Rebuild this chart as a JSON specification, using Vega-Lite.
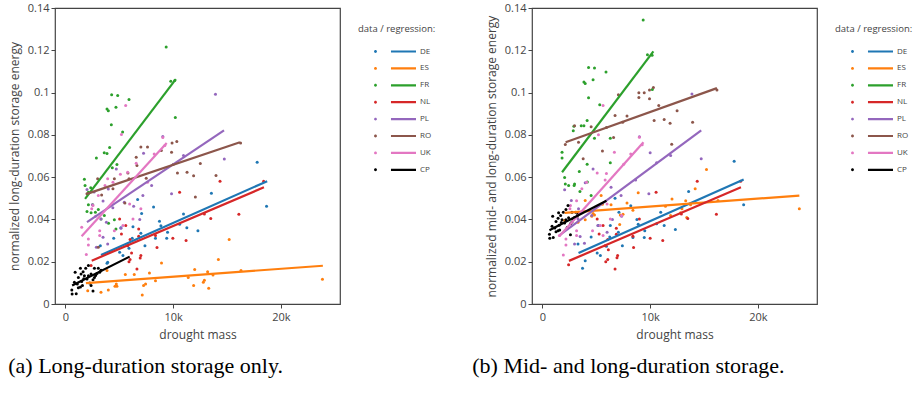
{
"$schema": "https://vega.github.io/schema/vega-lite/v6.json",
"background": "white",
"padding": {"left": 7, "top": 1, "right": 5, "bottom": 5},
"config": {
  "view": {"stroke": "#444", "strokeWidth": 1.2},
  "font": "Open Sans",
  "axis": {"domain": false, "grid": false, "tickColor": "#444", "tickSize": 4, "labelFont": "Open Sans", "labelFontSize": 11, "labelColor": "#444", "labelPadding": 2, "titleFont": "Open Sans", "titleFontSize": 12, "titleColor": "#444", "titleFontWeight": "normal"},
  "axisY": {"titlePadding": 6},
  "axisX": {"titlePadding": 7, "labelPadding": 3},
  "legend": {"orient": "right", "offset": 2, "padding": 16, "symbolType": "M1.71,0A0.21,0.21,0,1,1,1.29,0A0.21,0.21,0,1,1,1.71,0ZM3.71,-0.16H7.29V0.16H3.71Z", "symbolSize": 196, "symbolStrokeWidth": 0, "symbolOpacity": 1, "labelOffset": 48, "rowPadding": 5.9, "titlePadding": 11, "labelFont": "Open Sans", "labelFontSize": 8, "labelColor": "#444", "titleFont": "Open Sans", "titleFontSize": 9.5, "titleColor": "#444", "titleFontWeight": "normal"},
  "title": {"orient": "bottom", "anchor": "start", "frame": "bounds", "font": "Liberation Serif", "fontSize": 22, "fontWeight": "normal", "color": "#000", "offset": 16}
},
"datasets": {
"fit": [
{"p":"a","c":"DE","x":3300,"y":0.0232},{"p":"a","c":"DE","x":18730,"y":0.0581},
{"p":"a","c":"ES","x":1900,"y":0.0099},{"p":"a","c":"ES","x":23900,"y":0.0181},
{"p":"a","c":"FR","x":1820,"y":0.0497},{"p":"a","c":"FR","x":10250,"y":0.1064},
{"p":"a","c":"NL","x":2440,"y":0.0205},{"p":"a","c":"NL","x":18430,"y":0.0552},
{"p":"a","c":"PL","x":2000,"y":0.0387},{"p":"a","c":"PL","x":14720,"y":0.0821},
{"p":"a","c":"RO","x":2000,"y":0.0521},{"p":"a","c":"RO","x":16200,"y":0.0765},
{"p":"a","c":"UK","x":1500,"y":0.0320},{"p":"a","c":"UK","x":9400,"y":0.0762},
{"p":"a","c":"CP","x":620,"y":0.0087},{"p":"a","c":"CP","x":5960,"y":0.0224},
{"p":"b","c":"DE","x":3350,"y":0.0241},{"p":"b","c":"DE","x":18680,"y":0.0589},
{"p":"b","c":"ES","x":2060,"y":0.0431},{"p":"b","c":"ES","x":23850,"y":0.0513},
{"p":"b","c":"FR","x":1820,"y":0.0623},{"p":"b","c":"FR","x":10300,"y":0.1195},
{"p":"b","c":"NL","x":2460,"y":0.0204},{"p":"b","c":"NL","x":18430,"y":0.0552},
{"p":"b","c":"PL","x":1630,"y":0.0327},{"p":"b","c":"PL","x":14740,"y":0.0821},
{"p":"b","c":"RO","x":2150,"y":0.0765},{"p":"b","c":"RO","x":16200,"y":0.1021},
{"p":"b","c":"UK","x":1570,"y":0.0320},{"p":"b","c":"UK","x":9380,"y":0.0765},
{"p":"b","c":"CP","x":650,"y":0.0349},{"p":"b","c":"CP","x":5940,"y":0.0488}
],
"pts": [
{"p":"a","c":"DE","x":17800,"y":0.0671},{"p":"a","c":"DE","x":18670,"y":0.0462},{"p":"a","c":"DE","x":13550,"y":0.0524},{"p":"a","c":"DE","x":12300,"y":0.0346},{"p":"a","c":"DE","x":11270,"y":0.0361},{"p":"a","c":"DE","x":10960,"y":0.0426},{"p":"a","c":"DE","x":9480,"y":0.0339},{"p":"a","c":"DE","x":9400,"y":0.0311},{"p":"a","c":"DE","x":8360,"y":0.0311},{"p":"a","c":"DE","x":8180,"y":0.0459},{"p":"a","c":"DE","x":8730,"y":0.0391},{"p":"a","c":"DE","x":7380,"y":0.0275},{"p":"a","c":"DE","x":7070,"y":0.0428},{"p":"a","c":"DE","x":6700,"y":0.0494},{"p":"a","c":"DE","x":6270,"y":0.0365},{"p":"a","c":"DE","x":6200,"y":0.0311},{"p":"a","c":"DE","x":5900,"y":0.0264},{"p":"a","c":"DE","x":5150,"y":0.0361},{"p":"a","c":"DE","x":5030,"y":0.0245},{"p":"a","c":"DE","x":4480,"y":0.0311},{"p":"a","c":"DE","x":3920,"y":0.0197},{"p":"a","c":"DE","x":3860,"y":0.0193},{"p":"a","c":"DE","x":3240,"y":0.0276},{"p":"a","c":"DE","x":5340,"y":0.0229},{"p":"a","c":"DE","x":7000,"y":0.0335},{"p":"a","c":"DE","x":8860,"y":0.0370},{"p":"a","c":"DE","x":10600,"y":0.0377},
{"p":"a","c":"ES","x":23860,"y":0.0117},{"p":"a","c":"ES","x":16300,"y":0.0158},{"p":"a","c":"ES","x":15200,"y":0.0305},{"p":"a","c":"ES","x":14200,"y":0.0211},{"p":"a","c":"ES","x":13700,"y":0.0137},{"p":"a","c":"ES","x":13200,"y":0.0153},{"p":"a","c":"ES","x":13300,"y":0.0074},{"p":"a","c":"ES","x":12900,"y":0.0112},{"p":"a","c":"ES","x":12800,"y":0.0103},{"p":"a","c":"ES","x":12000,"y":0.0163},{"p":"a","c":"ES","x":11900,"y":0.0087},{"p":"a","c":"ES","x":11400,"y":0.0125},{"p":"a","c":"ES","x":8920,"y":0.0194},{"p":"a","c":"ES","x":8360,"y":0.0110},{"p":"a","c":"ES","x":7800,"y":0.0147},{"p":"a","c":"ES","x":7440,"y":0.0095},{"p":"a","c":"ES","x":7250,"y":0.0087},{"p":"a","c":"ES","x":7130,"y":0.0043},{"p":"a","c":"ES","x":6390,"y":0.0140},{"p":"a","c":"ES","x":5560,"y":0.0140},{"p":"a","c":"ES","x":4780,"y":0.0084},{"p":"a","c":"ES","x":4600,"y":0.0084},{"p":"a","c":"ES","x":4720,"y":0.0095},{"p":"a","c":"ES","x":3980,"y":0.0066},{"p":"a","c":"ES","x":3300,"y":0.0055},{"p":"a","c":"ES","x":2070,"y":0.0063},{"p":"a","c":"ES","x":3860,"y":0.0158},
{"p":"a","c":"FR","x":9350,"y":0.1215},{"p":"a","c":"FR","x":9780,"y":0.1054},{"p":"a","c":"FR","x":10150,"y":0.1057},{"p":"a","c":"FR","x":4290,"y":0.0990},{"p":"a","c":"FR","x":4850,"y":0.0986},{"p":"a","c":"FR","x":5900,"y":0.0967},{"p":"a","c":"FR","x":4690,"y":0.0931},{"p":"a","c":"FR","x":3860,"y":0.0922},{"p":"a","c":"FR","x":3980,"y":0.0914},{"p":"a","c":"FR","x":4260,"y":0.0848},{"p":"a","c":"FR","x":5310,"y":0.0813},{"p":"a","c":"FR","x":10200,"y":0.0882},{"p":"a","c":"FR","x":4100,"y":0.0740},{"p":"a","c":"FR","x":3600,"y":0.0715},{"p":"a","c":"FR","x":3860,"y":0.0712},{"p":"a","c":"FR","x":2870,"y":0.0690},{"p":"a","c":"FR","x":4780,"y":0.0660},{"p":"a","c":"FR","x":4350,"y":0.0644},{"p":"a","c":"FR","x":1760,"y":0.0590},{"p":"a","c":"FR","x":1820,"y":0.0560},{"p":"a","c":"FR","x":2350,"y":0.0550},{"p":"a","c":"FR","x":2130,"y":0.0469},{"p":"a","c":"FR","x":2530,"y":0.0469},{"p":"a","c":"FR","x":2000,"y":0.0437},{"p":"a","c":"FR","x":2380,"y":0.0431},{"p":"a","c":"FR","x":2780,"y":0.0434},{"p":"a","c":"FR","x":3610,"y":0.0418},{"p":"a","c":"FR","x":3300,"y":0.0402},{"p":"a","c":"FR","x":4540,"y":0.0398},{"p":"a","c":"FR","x":4000,"y":0.0382},{"p":"a","c":"FR","x":4690,"y":0.0355},{"p":"a","c":"FR","x":3050,"y":0.0447},{"p":"a","c":"FR","x":2130,"y":0.0529},
{"p":"a","c":"NL","x":16100,"y":0.0425},{"p":"a","c":"NL","x":14350,"y":0.0581},{"p":"a","c":"NL","x":13490,"y":0.0404},{"p":"a","c":"NL","x":12900,"y":0.0426},{"p":"a","c":"NL","x":11200,"y":0.0300},{"p":"a","c":"NL","x":10600,"y":0.0529},{"p":"a","c":"NL","x":9970,"y":0.0311},{"p":"a","c":"NL","x":8500,"y":0.0267},{"p":"a","c":"NL","x":8360,"y":0.0324},{"p":"a","c":"NL","x":6800,"y":0.0355},{"p":"a","c":"NL","x":6800,"y":0.0320},{"p":"a","c":"NL","x":7000,"y":0.0229},{"p":"a","c":"NL","x":6940,"y":0.0218},{"p":"a","c":"NL","x":6140,"y":0.0241},{"p":"a","c":"NL","x":6000,"y":0.0210},{"p":"a","c":"NL","x":6000,"y":0.0305},{"p":"a","c":"NL","x":5770,"y":0.0276},{"p":"a","c":"NL","x":5900,"y":0.0200},{"p":"a","c":"NL","x":5600,"y":0.0371},{"p":"a","c":"NL","x":5030,"y":0.0402},{"p":"a","c":"NL","x":5200,"y":0.0331},{"p":"a","c":"NL","x":6640,"y":0.0166},{"p":"a","c":"NL","x":2380,"y":0.0182},{"p":"a","c":"NL","x":18400,"y":0.0580},
{"p":"a","c":"PL","x":13930,"y":0.0992},{"p":"a","c":"PL","x":14750,"y":0.0686},{"p":"a","c":"PL","x":9040,"y":0.0792},{"p":"a","c":"PL","x":7250,"y":0.0713},{"p":"a","c":"PL","x":9850,"y":0.0521},{"p":"a","c":"PL","x":7190,"y":0.0513},{"p":"a","c":"PL","x":6330,"y":0.0462},{"p":"a","c":"PL","x":5460,"y":0.0481},{"p":"a","c":"PL","x":4720,"y":0.0639},{"p":"a","c":"PL","x":3980,"y":0.0544},{"p":"a","c":"PL","x":3490,"y":0.0487},{"p":"a","c":"PL","x":2000,"y":0.0541},{"p":"a","c":"PL","x":2660,"y":0.0530},{"p":"a","c":"PL","x":3300,"y":0.0402},{"p":"a","c":"PL","x":3800,"y":0.0387},{"p":"a","c":"PL","x":3920,"y":0.0284},{"p":"a","c":"PL","x":2870,"y":0.0268},{"p":"a","c":"PL","x":3490,"y":0.0316},{"p":"a","c":"PL","x":5150,"y":0.0358},{"p":"a","c":"PL","x":10960,"y":0.0702},{"p":"a","c":"PL","x":6900,"y":0.0400},{"p":"a","c":"PL","x":8000,"y":0.0560},{"p":"a","c":"PL","x":4400,"y":0.0455},{"p":"a","c":"PL","x":2500,"y":0.0470},
{"p":"a","c":"RO","x":16260,"y":0.0762},{"p":"a","c":"RO","x":13980,"y":0.0608},{"p":"a","c":"RO","x":12520,"y":0.0664},{"p":"a","c":"RO","x":12060,"y":0.0506},{"p":"a","c":"RO","x":11900,"y":0.0607},{"p":"a","c":"RO","x":11290,"y":0.0623},{"p":"a","c":"RO","x":10400,"y":0.0620},{"p":"a","c":"RO","x":10340,"y":0.0769},{"p":"a","c":"RO","x":9900,"y":0.0761},{"p":"a","c":"RO","x":9850,"y":0.0718},{"p":"a","c":"RO","x":8900,"y":0.0726},{"p":"a","c":"RO","x":7620,"y":0.0742},{"p":"a","c":"RO","x":7000,"y":0.0742},{"p":"a","c":"RO","x":6570,"y":0.0694},{"p":"a","c":"RO","x":6640,"y":0.0655},{"p":"a","c":"RO","x":7500,"y":0.0595},{"p":"a","c":"RO","x":5900,"y":0.0592},{"p":"a","c":"RO","x":5800,"y":0.0620},{"p":"a","c":"RO","x":5520,"y":0.0478},{"p":"a","c":"RO","x":4540,"y":0.0592},{"p":"a","c":"RO","x":4410,"y":0.0545},{"p":"a","c":"RO","x":3360,"y":0.0516},{"p":"a","c":"RO","x":2990,"y":0.0592},{"p":"a","c":"RO","x":3050,"y":0.0268},{"p":"a","c":"RO","x":2000,"y":0.0521},{"p":"a","c":"RO","x":10000,"y":0.0660},
{"p":"a","c":"UK","x":5590,"y":0.0939},{"p":"a","c":"UK","x":5200,"y":0.0802},{"p":"a","c":"UK","x":6570,"y":0.0666},{"p":"a","c":"UK","x":8240,"y":0.0710},{"p":"a","c":"UK","x":9230,"y":0.0750},{"p":"a","c":"UK","x":9040,"y":0.0788},{"p":"a","c":"UK","x":7620,"y":0.0576},{"p":"a","c":"UK","x":5770,"y":0.0623},{"p":"a","c":"UK","x":5100,"y":0.0614},{"p":"a","c":"UK","x":4410,"y":0.0576},{"p":"a","c":"UK","x":3920,"y":0.0592},{"p":"a","c":"UK","x":3670,"y":0.0560},{"p":"a","c":"UK","x":3050,"y":0.0513},{"p":"a","c":"UK","x":2560,"y":0.0466},{"p":"a","c":"UK","x":2440,"y":0.0450},{"p":"a","c":"UK","x":1510,"y":0.0363},{"p":"a","c":"UK","x":2130,"y":0.0308},{"p":"a","c":"UK","x":2130,"y":0.0279},{"p":"a","c":"UK","x":1940,"y":0.0234},{"p":"a","c":"UK","x":3180,"y":0.0324},{"p":"a","c":"UK","x":3180,"y":0.0347},{"p":"a","c":"UK","x":4540,"y":0.0347},{"p":"a","c":"UK","x":5340,"y":0.0371},{"p":"a","c":"UK","x":6270,"y":0.0402},{"p":"a","c":"UK","x":5960,"y":0.0473},{"p":"a","c":"UK","x":7000,"y":0.0450},{"p":"a","c":"UK","x":2800,"y":0.0415},
{"p":"a","c":"CP","x":590,"y":0.0066},{"p":"a","c":"CP","x":620,"y":0.0047},{"p":"a","c":"CP","x":1000,"y":0.0049},{"p":"a","c":"CP","x":900,"y":0.0150},{"p":"a","c":"CP","x":1200,"y":0.0125},{"p":"a","c":"CP","x":1390,"y":0.0169},{"p":"a","c":"CP","x":1450,"y":0.0142},{"p":"a","c":"CP","x":1640,"y":0.0153},{"p":"a","c":"CP","x":1580,"y":0.0087},{"p":"a","c":"CP","x":1760,"y":0.0134},{"p":"a","c":"CP","x":1880,"y":0.0169},{"p":"a","c":"CP","x":2000,"y":0.0118},{"p":"a","c":"CP","x":2130,"y":0.0134},{"p":"a","c":"CP","x":2250,"y":0.0099},{"p":"a","c":"CP","x":2380,"y":0.0142},{"p":"a","c":"CP","x":2560,"y":0.0115},{"p":"a","c":"CP","x":2690,"y":0.0169},{"p":"a","c":"CP","x":2690,"y":0.0125},{"p":"a","c":"CP","x":3050,"y":0.0169},{"p":"a","c":"CP","x":3180,"y":0.0150},{"p":"a","c":"CP","x":2560,"y":0.0062},{"p":"a","c":"CP","x":1390,"y":0.0080},{"p":"a","c":"CP","x":1200,"y":0.0077},{"p":"a","c":"CP","x":830,"y":0.0103},{"p":"a","c":"CP","x":2130,"y":0.0182},{"p":"a","c":"CP","x":2930,"y":0.0144},{"p":"a","c":"CP","x":1510,"y":0.0106},{"p":"a","c":"CP","x":2380,"y":0.0087},{"p":"a","c":"CP","x":3300,"y":0.0160},{"p":"a","c":"CP","x":1700,"y":0.0120},{"p":"a","c":"CP","x":1100,"y":0.0095},{"p":"a","c":"CP","x":2800,"y":0.0135},
{"p":"b","c":"DE","x":17800,"y":0.0675},{"p":"b","c":"DE","x":18680,"y":0.0469},{"p":"b","c":"DE","x":13570,"y":0.0532},{"p":"b","c":"DE","x":12340,"y":0.0352},{"p":"b","c":"DE","x":11300,"y":0.0371},{"p":"b","c":"DE","x":10980,"y":0.0434},{"p":"b","c":"DE","x":9500,"y":0.0347},{"p":"b","c":"DE","x":9450,"y":0.0314},{"p":"b","c":"DE","x":8400,"y":0.0314},{"p":"b","c":"DE","x":8200,"y":0.0465},{"p":"b","c":"DE","x":8770,"y":0.0400},{"p":"b","c":"DE","x":7420,"y":0.0276},{"p":"b","c":"DE","x":7100,"y":0.0434},{"p":"b","c":"DE","x":6740,"y":0.0500},{"p":"b","c":"DE","x":6300,"y":0.0371},{"p":"b","c":"DE","x":6250,"y":0.0317},{"p":"b","c":"DE","x":5940,"y":0.0273},{"p":"b","c":"DE","x":5200,"y":0.0371},{"p":"b","c":"DE","x":5080,"y":0.0241},{"p":"b","c":"DE","x":4520,"y":0.0317},{"p":"b","c":"DE","x":3970,"y":0.0204},{"p":"b","c":"DE","x":3720,"y":0.0169},{"p":"b","c":"DE","x":3300,"y":0.0284},{"p":"b","c":"DE","x":5380,"y":0.0229},{"p":"b","c":"DE","x":7050,"y":0.0339},{"p":"b","c":"DE","x":8890,"y":0.0377},{"p":"b","c":"DE","x":10600,"y":0.0380},
{"p":"b","c":"ES","x":23850,"y":0.0450},{"p":"b","c":"ES","x":16300,"y":0.0489},{"p":"b","c":"ES","x":15230,"y":0.0636},{"p":"b","c":"ES","x":14180,"y":0.0545},{"p":"b","c":"ES","x":13750,"y":0.0470},{"p":"b","c":"ES","x":13300,"y":0.0488},{"p":"b","c":"ES","x":13400,"y":0.0409},{"p":"b","c":"ES","x":12950,"y":0.0450},{"p":"b","c":"ES","x":12830,"y":0.0431},{"p":"b","c":"ES","x":12030,"y":0.0497},{"p":"b","c":"ES","x":11900,"y":0.0418},{"p":"b","c":"ES","x":11420,"y":0.0462},{"p":"b","c":"ES","x":8890,"y":0.0526},{"p":"b","c":"ES","x":8400,"y":0.0443},{"p":"b","c":"ES","x":7850,"y":0.0478},{"p":"b","c":"ES","x":7480,"y":0.0425},{"p":"b","c":"ES","x":7230,"y":0.0421},{"p":"b","c":"ES","x":7170,"y":0.0376},{"p":"b","c":"ES","x":6370,"y":0.0469},{"p":"b","c":"ES","x":5570,"y":0.0472},{"p":"b","c":"ES","x":4830,"y":0.0421},{"p":"b","c":"ES","x":4580,"y":0.0415},{"p":"b","c":"ES","x":4700,"y":0.0428},{"p":"b","c":"ES","x":3970,"y":0.0399},{"p":"b","c":"ES","x":3300,"y":0.0387},{"p":"b","c":"ES","x":2060,"y":0.0395},{"p":"b","c":"ES","x":3970,"y":0.0489},{"p":"b","c":"ES","x":5450,"y":0.0513},
{"p":"b","c":"FR","x":9350,"y":0.1343},{"p":"b","c":"FR","x":9750,"y":0.1179},{"p":"b","c":"FR","x":10180,"y":0.1176},{"p":"b","c":"FR","x":4280,"y":0.1119},{"p":"b","c":"FR","x":4830,"y":0.1116},{"p":"b","c":"FR","x":5900,"y":0.1097},{"p":"b","c":"FR","x":3850,"y":0.1050},{"p":"b","c":"FR","x":3970,"y":0.1043},{"p":"b","c":"FR","x":4700,"y":0.1061},{"p":"b","c":"FR","x":4280,"y":0.0975},{"p":"b","c":"FR","x":5320,"y":0.0942},{"p":"b","c":"FR","x":10200,"y":0.1015},{"p":"b","c":"FR","x":4150,"y":0.0868},{"p":"b","c":"FR","x":3600,"y":0.0843},{"p":"b","c":"FR","x":3850,"y":0.0843},{"p":"b","c":"FR","x":2920,"y":0.0841},{"p":"b","c":"FR","x":2860,"y":0.0819},{"p":"b","c":"FR","x":4830,"y":0.0784},{"p":"b","c":"FR","x":6300,"y":0.0784},{"p":"b","c":"FR","x":1820,"y":0.0718},{"p":"b","c":"FR","x":1820,"y":0.0690},{"p":"b","c":"FR","x":4150,"y":0.0661},{"p":"b","c":"FR","x":6300,"y":0.0668},{"p":"b","c":"FR","x":3420,"y":0.0627},{"p":"b","c":"FR","x":2060,"y":0.0598},{"p":"b","c":"FR","x":2120,"y":0.0567},{"p":"b","c":"FR","x":2430,"y":0.0560},{"p":"b","c":"FR","x":2980,"y":0.0567},{"p":"b","c":"FR","x":3480,"y":0.0532},{"p":"b","c":"FR","x":4520,"y":0.0513},{"p":"b","c":"FR","x":2940,"y":0.0560},{"p":"b","c":"FR","x":4170,"y":0.0577},
{"p":"b","c":"NL","x":16150,"y":0.0425},{"p":"b","c":"NL","x":14370,"y":0.0581},{"p":"b","c":"NL","x":13490,"y":0.0404},{"p":"b","c":"NL","x":12900,"y":0.0426},{"p":"b","c":"NL","x":11170,"y":0.0300},{"p":"b","c":"NL","x":10550,"y":0.0529},{"p":"b","c":"NL","x":10000,"y":0.0311},{"p":"b","c":"NL","x":8460,"y":0.0267},{"p":"b","c":"NL","x":8400,"y":0.0320},{"p":"b","c":"NL","x":6860,"y":0.0330},{"p":"b","c":"NL","x":6860,"y":0.0358},{"p":"b","c":"NL","x":6980,"y":0.0229},{"p":"b","c":"NL","x":6920,"y":0.0219},{"p":"b","c":"NL","x":6120,"y":0.0257},{"p":"b","c":"NL","x":6060,"y":0.0210},{"p":"b","c":"NL","x":6060,"y":0.0305},{"p":"b","c":"NL","x":5820,"y":0.0276},{"p":"b","c":"NL","x":5880,"y":0.0200},{"p":"b","c":"NL","x":5630,"y":0.0371},{"p":"b","c":"NL","x":5080,"y":0.0402},{"p":"b","c":"NL","x":5260,"y":0.0331},{"p":"b","c":"NL","x":6740,"y":0.0166},{"p":"b","c":"NL","x":2430,"y":0.0186},{"p":"b","c":"NL","x":9000,"y":0.0402},{"p":"b","c":"NL","x":18400,"y":0.0580},
{"p":"b","c":"PL","x":13880,"y":0.0993},{"p":"b","c":"PL","x":14740,"y":0.0687},{"p":"b","c":"PL","x":9000,"y":0.0791},{"p":"b","c":"PL","x":10000,"y":0.0715},{"p":"b","c":"PL","x":10600,"y":0.0668},{"p":"b","c":"PL","x":11900,"y":0.0702},{"p":"b","c":"PL","x":8650,"y":0.0586},{"p":"b","c":"PL","x":9880,"y":0.0521},{"p":"b","c":"PL","x":7300,"y":0.0513},{"p":"b","c":"PL","x":6370,"y":0.0552},{"p":"b","c":"PL","x":4700,"y":0.0639},{"p":"b","c":"PL","x":3970,"y":0.0573},{"p":"b","c":"PL","x":2060,"y":0.0540},{"p":"b","c":"PL","x":2680,"y":0.0489},{"p":"b","c":"PL","x":3350,"y":0.0450},{"p":"b","c":"PL","x":5140,"y":0.0371},{"p":"b","c":"PL","x":6000,"y":0.0339},{"p":"b","c":"PL","x":3300,"y":0.0402},{"p":"b","c":"PL","x":2980,"y":0.0284},{"p":"b","c":"PL","x":3500,"y":0.0319},{"p":"b","c":"PL","x":3900,"y":0.0287},{"p":"b","c":"PL","x":4580,"y":0.0418},{"p":"b","c":"PL","x":6500,"y":0.0400},{"p":"b","c":"PL","x":7350,"y":0.0415},
{"p":"b","c":"RO","x":16200,"y":0.1012},{"p":"b","c":"RO","x":10300,"y":0.1024},{"p":"b","c":"RO","x":9940,"y":0.1012},{"p":"b","c":"RO","x":9450,"y":0.0999},{"p":"b","c":"RO","x":8950,"y":0.0999},{"p":"b","c":"RO","x":8950,"y":0.0977},{"p":"b","c":"RO","x":7050,"y":0.0990},{"p":"b","c":"RO","x":9940,"y":0.0971},{"p":"b","c":"RO","x":10800,"y":0.0939},{"p":"b","c":"RO","x":7850,"y":0.0889},{"p":"b","c":"RO","x":6740,"y":0.0892},{"p":"b","c":"RO","x":10370,"y":0.0868},{"p":"b","c":"RO","x":11300,"y":0.0873},{"p":"b","c":"RO","x":12500,"y":0.0914},{"p":"b","c":"RO","x":11850,"y":0.0855},{"p":"b","c":"RO","x":13940,"y":0.0860},{"p":"b","c":"RO","x":7450,"y":0.0860},{"p":"b","c":"RO","x":5940,"y":0.0835},{"p":"b","c":"RO","x":4520,"y":0.0838},{"p":"b","c":"RO","x":2980,"y":0.0843},{"p":"b","c":"RO","x":3350,"y":0.0765},{"p":"b","c":"RO","x":3780,"y":0.0687},{"p":"b","c":"RO","x":5570,"y":0.0724},{"p":"b","c":"RO","x":6600,"y":0.0788},{"p":"b","c":"RO","x":2120,"y":0.0754},{"p":"b","c":"RO","x":12000,"y":0.0756},
{"p":"b","c":"UK","x":5630,"y":0.0939},{"p":"b","c":"UK","x":5200,"y":0.0800},{"p":"b","c":"UK","x":6680,"y":0.0718},{"p":"b","c":"UK","x":8200,"y":0.0710},{"p":"b","c":"UK","x":9260,"y":0.0753},{"p":"b","c":"UK","x":9000,"y":0.0789},{"p":"b","c":"UK","x":7540,"y":0.0661},{"p":"b","c":"UK","x":5940,"y":0.0617},{"p":"b","c":"UK","x":5080,"y":0.0620},{"p":"b","c":"UK","x":5820,"y":0.0586},{"p":"b","c":"UK","x":4100,"y":0.0576},{"p":"b","c":"UK","x":3660,"y":0.0545},{"p":"b","c":"UK","x":3170,"y":0.0488},{"p":"b","c":"UK","x":2600,"y":0.0466},{"p":"b","c":"UK","x":2550,"y":0.0450},{"p":"b","c":"UK","x":1570,"y":0.0324},{"p":"b","c":"UK","x":2180,"y":0.0308},{"p":"b","c":"UK","x":2180,"y":0.0279},{"p":"b","c":"UK","x":1940,"y":0.0232},{"p":"b","c":"UK","x":3170,"y":0.0324},{"p":"b","c":"UK","x":3170,"y":0.0347},{"p":"b","c":"UK","x":4650,"y":0.0347},{"p":"b","c":"UK","x":5380,"y":0.0371},{"p":"b","c":"UK","x":6300,"y":0.0402},{"p":"b","c":"UK","x":6000,"y":0.0473},{"p":"b","c":"UK","x":7350,"y":0.0418},{"p":"b","c":"UK","x":5630,"y":0.0324},
{"p":"b","c":"CP","x":650,"y":0.0330},{"p":"b","c":"CP","x":680,"y":0.0311},{"p":"b","c":"CP","x":1000,"y":0.0314},{"p":"b","c":"CP","x":950,"y":0.0415},{"p":"b","c":"CP","x":1260,"y":0.0390},{"p":"b","c":"CP","x":1500,"y":0.0432},{"p":"b","c":"CP","x":1450,"y":0.0405},{"p":"b","c":"CP","x":1690,"y":0.0418},{"p":"b","c":"CP","x":1600,"y":0.0350},{"p":"b","c":"CP","x":1820,"y":0.0399},{"p":"b","c":"CP","x":1940,"y":0.0434},{"p":"b","c":"CP","x":2060,"y":0.0383},{"p":"b","c":"CP","x":2180,"y":0.0399},{"p":"b","c":"CP","x":2300,"y":0.0362},{"p":"b","c":"CP","x":2430,"y":0.0408},{"p":"b","c":"CP","x":2600,"y":0.0380},{"p":"b","c":"CP","x":2740,"y":0.0434},{"p":"b","c":"CP","x":2740,"y":0.0388},{"p":"b","c":"CP","x":3100,"y":0.0434},{"p":"b","c":"CP","x":3230,"y":0.0415},{"p":"b","c":"CP","x":2600,"y":0.0327},{"p":"b","c":"CP","x":1450,"y":0.0346},{"p":"b","c":"CP","x":1260,"y":0.0342},{"p":"b","c":"CP","x":890,"y":0.0368},{"p":"b","c":"CP","x":2180,"y":0.0447},{"p":"b","c":"CP","x":2980,"y":0.0409},{"p":"b","c":"CP","x":1550,"y":0.0372},{"p":"b","c":"CP","x":2370,"y":0.0466},{"p":"b","c":"CP","x":3300,"y":0.0425},{"p":"b","c":"CP","x":1750,"y":0.0385},{"p":"b","c":"CP","x":1150,"y":0.0360},{"p":"b","c":"CP","x":2850,"y":0.0400}
]
},
"spacing": 18,
"resolve": {"scale": {"color": "independent"}, "legend": {"color": "independent"}},
"hconcat": [
{
  "width": 285, "height": 296,
  "title": {"text": "(a) Long-duration storage only."},
  "layer": [
    {
      "data": {"name": "pts"},
      "transform": [{"filter": "datum.p === 'a'"}],
      "mark": {"type": "point", "filled": true, "shape": "circle", "size": 9, "opacity": 1},
      "encoding": {
        "x": {"field": "x", "type": "quantitative", "scale": {"domain": [-970, 25490], "nice": false, "zero": false}, "axis": {"values": [0, 10000, 20000], "labelExpr": "datum.value === 0 ? '0' : format(datum.value / 1000, 'd') + 'k'", "title": "drought mass"}},
        "y": {"field": "y", "type": "quantitative", "scale": {"domain": [0, 0.14], "nice": false}, "axis": {"values": [0, 0.02, 0.04, 0.06, 0.08, 0.1, 0.12, 0.14], "format": "~g", "title": "normalized long-duration storage energy"}},
        "color": {"field": "c", "type": "nominal", "scale": {"domain": ["DE","ES","FR","NL","PL","RO","UK","CP"], "range": ["#1f77b4","#ff7f0e","#2ca02c","#d62728","#9467bd","#8c564b","#e377c2","#000000"]}, "legend": {"title": "data / regression:"}}
      }
    },
    {
      "data": {"name": "fit"},
      "transform": [{"filter": "datum.p === 'a'"}],
      "mark": {"type": "line", "strokeWidth": 2.2},
      "encoding": {
        "x": {"field": "x", "type": "quantitative"},
        "y": {"field": "y", "type": "quantitative"},
        "color": {"field": "c", "type": "nominal", "legend": null}
      }
    }
  ]
},
{
  "width": 285, "height": 296,
  "title": {"text": "(b) Mid- and long-duration storage.", "dx": -13},
  "layer": [
    {
      "data": {"name": "pts"},
      "transform": [{"filter": "datum.p === 'b'"}],
      "mark": {"type": "point", "filled": true, "shape": "circle", "size": 9, "opacity": 1},
      "encoding": {
        "x": {"field": "x", "type": "quantitative", "scale": {"domain": [-970, 25490], "nice": false, "zero": false}, "axis": {"values": [0, 10000, 20000], "labelExpr": "datum.value === 0 ? '0' : format(datum.value / 1000, 'd') + 'k'", "title": "drought mass"}},
        "y": {"field": "y", "type": "quantitative", "scale": {"domain": [0, 0.14], "nice": false}, "axis": {"values": [0, 0.02, 0.04, 0.06, 0.08, 0.1, 0.12, 0.14], "format": "~g", "title": "normalized mid- and long-duration storage energy"}},
        "color": {"field": "c", "type": "nominal", "scale": {"domain": ["DE","ES","FR","NL","PL","RO","UK","CP"], "range": ["#1f77b4","#ff7f0e","#2ca02c","#d62728","#9467bd","#8c564b","#e377c2","#000000"]}, "legend": {"title": "data / regression:"}}
      }
    },
    {
      "data": {"name": "fit"},
      "transform": [{"filter": "datum.p === 'b'"}],
      "mark": {"type": "line", "strokeWidth": 2.2},
      "encoding": {
        "x": {"field": "x", "type": "quantitative"},
        "y": {"field": "y", "type": "quantitative"},
        "color": {"field": "c", "type": "nominal", "legend": null}
      }
    }
  ]
}
]
}
